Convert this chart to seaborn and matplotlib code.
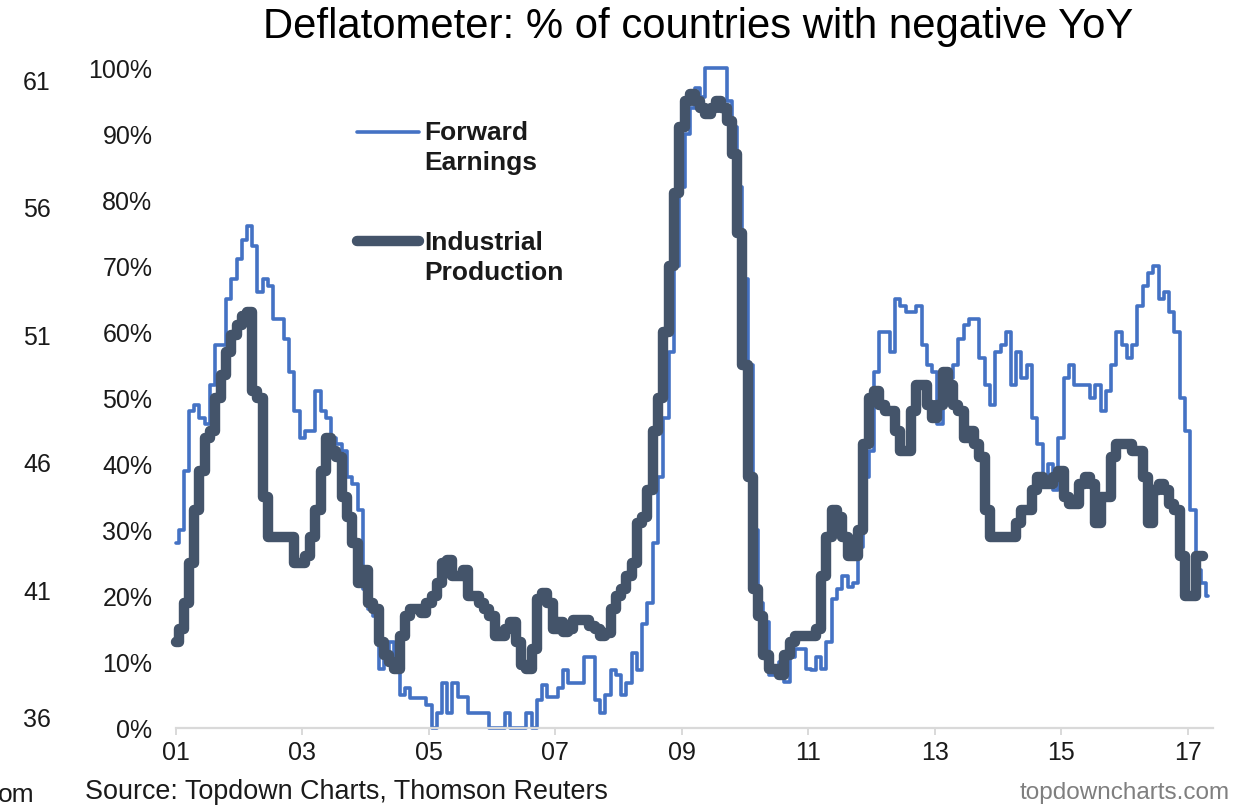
import matplotlib
matplotlib.use("Agg")
import matplotlib.pyplot as plt
import numpy as np
import pandas as pd
import seaborn as sns

# ---------------- data (monthly, % of countries with negative YoY) ----------------
start_month = "2001-01-01"

fwd_earnings = [
    28, 30, 39, 48, 49, 47, 46, 52, 58, 58, 65, 68,          # 2001
    71, 74, 76, 73, 66, 68, 67, 62, 62, 59, 54, 48,          # 2002
    44, 45, 45, 51, 48, 47, 44, 43, 42, 38, 37, 33,          # 2003
    21, 18, 17, 9, 11, 13, 9, 5, 6, 4.5, 4.5, 4.5,           # 2004
    3.5, 0, 2.3, 6.8, 2.3, 6.8, 4.7, 4.7, 2.3, 2.3, 2.3, 2.3,  # 2005
    0, 0, 0, 2.3, 0, 0, 0, 2.3, 0, 4.2, 6.5, 4.7,            # 2006
    4.7, 6, 8.8, 6.8, 6.8, 6.8, 10.8, 10.8, 4.2, 2.3, 5, 8.8,  # 2007
    8, 5, 6.8, 11.3, 8.8, 15.7, 19, 28, 38, 47, 57, 70,      # 2008
    82, 90, 94, 97, 95.6, 100, 100, 100, 100, 95, 91, 82,    # 2009
    68, 55, 30, 19, 16, 8, 9, 10, 7, 10.7, 12, 12,           # 2010
    9, 8.8, 10.7, 9, 13, 19.5, 21, 23, 21.4, 22, 27.5, 38,   # 2011
    42, 54, 60, 60, 57, 65, 64, 63, 63, 64, 58, 55,          # 2012
    54, 46, 53, 53, 55, 59, 61, 62, 62, 56, 52, 49,          # 2013
    57, 58, 60, 52, 57, 53, 55, 47, 43, 38, 40, 36,          # 2014
    44, 53, 55, 52, 52, 52, 50, 52, 48, 51, 55, 60,          # 2015
    58, 56, 58, 64, 67, 69, 70, 65, 66, 63, 60, 50,          # 2016
    45, 33, 24, 22, 20,                                      # 2017
]

ind_production = [
    13, 15, 19, 25, 33, 39, 44, 45, 50, 53.5, 57, 59.5,      # 2001
    61, 62.5, 63, 51, 50, 35, 29, 29, 29, 29, 29, 25,        # 2002
    25, 26, 29, 33, 39, 44, 42, 41, 35, 32, 28, 22,          # 2003
    24, 19, 18, 13, 11, 10, 9, 14, 17, 18, 18, 17.5,         # 2004
    19, 20, 22, 25, 25.5, 23, 23, 24, 20, 20, 19, 18,        # 2005
    17, 14, 14, 15, 16, 13, 9.5, 9, 12, 19.5, 20.5, 19,      # 2006
    15, 16, 14.5, 15, 16.4, 16.4, 16.4, 15.5, 15, 14, 14.4, 18,  # 2007
    20, 21, 23, 25, 31, 32, 36, 45, 50, 60, 70, 81,          # 2008
    91, 95, 96, 95, 94, 93, 94, 95, 94, 92, 87, 75,          # 2009
    55, 38, 21, 17, 11, 9, 9, 8, 11, 13, 14, 14,             # 2010
    14, 14, 15, 23, 29, 33, 32, 29, 26, 26, 30, 43,          # 2011
    50, 51, 49, 48, 48, 45, 42, 42, 48, 52, 52, 49,          # 2012
    47, 49, 54, 52, 49, 48, 44, 45, 43, 41, 33, 29,          # 2013
    29, 29, 29, 29, 31, 33, 33, 36, 38, 37, 37, 38,          # 2014
    39, 35, 34, 34, 37, 38, 37, 31, 35, 35, 41, 43,          # 2015
    43, 43, 42, 42, 38, 31, 36, 37, 36, 34, 33, 26,          # 2016
    20, 20, 26, 26,                                          # 2017
]

series_names = ["Forward\nEarnings", "Industrial\nProduction"]
tick_years = [2001, 2003, 2005, 2007, 2009, 2011, 2013, 2015, 2017]
tick_labels = ["01", "03", "05", "07", "09", "11", "13", "15", "17"]
ytick_values = [0, 10, 20, 30, 40, 50, 60, 70, 80, 90, 100]
ytick_labels = ["0%", "10%", "20%", "30%", "40%", "50%", "60%", "70%", "80%", "90%", "100%"]
stray_left_labels = ["61", "56", "51", "46", "41", "36"]

title = "Deflatometer: % of countries with negative YoY"
source = "Source: Topdown Charts, Thomson Reuters"
site = "topdowncharts.com"

# ---------------- styling ----------------
BLUE = "#4472C4"
DARK = "#44546A"
TXT = "#1a1a1a"

sns.set_theme(style="white")
plt.rcParams["font.family"] = ["Liberation Sans", "DejaVu Sans"]

W, H = 1256, 810
fig = plt.figure(figsize=(W / 100, H / 100), dpi=100)
ax = fig.add_axes([176 / W, 82 / H, (1213 - 176) / W, (728 - 68) / H])

df_fe = pd.DataFrame({
    "date": pd.date_range(start_month, periods=len(fwd_earnings), freq="MS"),
    "value": fwd_earnings,
})
df_ip = pd.DataFrame({
    "date": pd.date_range(start_month, periods=len(ind_production), freq="MS"),
    "value": ind_production,
})

sns.lineplot(data=df_fe, x="date", y="value", ax=ax, color=BLUE, linewidth=2.6,
             drawstyle="steps-mid", label=series_names[0], clip_on=False)
sns.lineplot(data=df_ip, x="date", y="value", ax=ax, color=DARK, linewidth=7.5,
             drawstyle="steps-mid", label=series_names[1], clip_on=False,
             solid_capstyle="round", solid_joinstyle="round")

ax.set_ylim(0, 100)
ax.set_xlim(pd.Timestamp("2001-01-01"), pd.Timestamp("2017-05-27"))
ax.set_xticks([pd.Timestamp(f"{y}-01-01") for y in tick_years])
ax.set_xticklabels(tick_labels)
ax.set_yticks(ytick_values)
ax.set_yticklabels(ytick_labels)
ax.set_xlabel("")
ax.set_ylabel("")

for s in ["left", "top", "right"]:
    ax.spines[s].set_visible(False)
ax.spines["bottom"].set_color("#d9d9d9")
ax.spines["bottom"].set_linewidth(1.6)

ax.tick_params(axis="x", which="both", bottom=True, direction="out", length=5,
               width=1.4, color="#d9d9d9", pad=4.5, labelsize=18, labelcolor=TXT)
ax.tick_params(axis="y", which="both", left=False, length=0, pad=17,
               labelsize=18, labelcolor=TXT)
ax.grid(False)

leg = ax.legend(loc="upper left", bbox_to_anchor=(357 / W, 1 - 106 / H),
                bbox_transform=fig.transFigure, frameon=False,
                prop={"weight": "bold", "size": 19},
                handlelength=2.35, handletextpad=0.2, handleheight=4.9,
                labelspacing=0.72, borderpad=0, borderaxespad=0)
for t in leg.get_texts():
    t.set_color(TXT)
    t.set_linespacing(1.3)

# title and footer texts
fig.text(698 / W, 1 - 27 / H, title, ha="center", va="center", fontsize=30.2, color="#000000")
fig.text(85 / W, 1 - 792 / H, source, ha="left", va="center", fontsize=19.4, color=TXT)
fig.text(1230 / W, 1 - 793 / H, site, ha="right", va="center", fontsize=17.5, color="#7f7f7f")

# remnants of a neighbouring chart at the left edge
for i, lab in enumerate(stray_left_labels):
    fig.text(51 / W, 1 - (83 + i * 127.4) / H, lab, ha="right", va="center",
             fontsize=18, color=TXT)
fig.text(-2 / W, 1 - 795 / H, "om", ha="left", va="center", fontsize=19, color=TXT)

fig.savefig("out.png", dpi=100)
